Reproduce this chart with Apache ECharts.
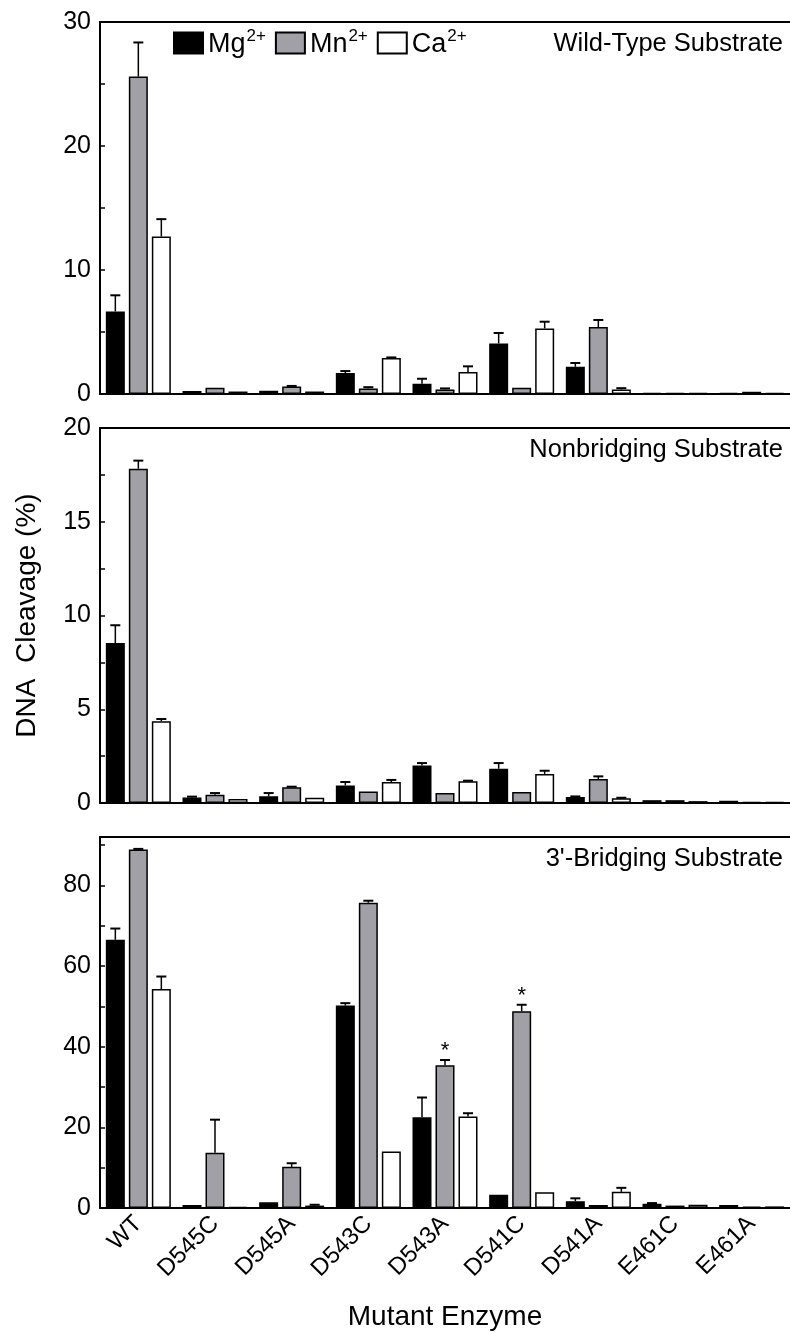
<!DOCTYPE html>
<html>
<head>
<meta charset="utf-8">
<script src="https://cdn.jsdelivr.net/npm/echarts@6/dist/echarts.min.js"></script>
<style>
  html, body { margin: 0; padding: 0; background: #fff; }
  #chart { width: 790px; height: 1332px; }
</style>
</head>
<body>
<div id="chart"></div>
<script>
var categories = ['WT', 'D545C', 'D545A', 'D543C', 'D543A', 'D541C', 'D541A', 'E461C', 'E461A'];
var ions = ['Mg', 'Mn', 'Ca'];
var panelTitles = ['Wild-Type Substrate', 'Nonbridging Substrate', "3'-Bridging Substrate"];

// wild-type substrate
var wtMg    = [6.66, 0.25, 0.27, 1.69, 0.83, 4.08, 2.2, 0.1, 0.1];
var wtMgErr = [1.3, 0, 0, 0.16, 0.4, 0.84, 0.3, 0, 0];
var wtMn    = [25.6, 0.5, 0.6, 0.45, 0.37, 0.5, 5.4, 0.1, 0.18];
var wtMnErr = [2.75, 0, 0.05, 0.1, 0.08, 0.03, 0.57, 0, 0.03];
var wtCa    = [12.7, 0.2, 0.2, 2.9, 1.77, 5.29, 0.37, 0.08, 0.08];
var wtCaErr = [1.4, 0.03, 0, 0.05, 0.46, 0.54, 0.1, 0, 0];

// nonbridging substrate
var nbMg    = [8.53, 0.3, 0.36, 0.94, 2.0, 1.83, 0.32, 0.15, 0.12];
var nbMgErr = [0.95, 0.04, 0.17, 0.18, 0.13, 0.3, 0.03, 0.02, 0.02];
var nbMn    = [17.83, 0.44, 0.84, 0.62, 0.53, 0.59, 1.28, 0.15, 0.05];
var nbMnErr = [0.43, 0.09, 0.03, 0.02, 0.02, 0.02, 0.14, 0.02, 0];
var nbCa    = [4.36, 0.21, 0.28, 1.12, 1.16, 1.55, 0.25, 0.1, 0.05];
var nbCaErr = [0.12, 0.02, 0.02, 0.11, 0.03, 0.17, 0.03, 0.01, 0];

// 3'-bridging substrate
var brMg    = [66.5, 0.75, 1.4, 50.2, 22.5, 3.3, 1.7, 1.07, 0.75];
var brMgErr = [2.8, 0.1, 0.1, 0.6, 4.9, 0.1, 0.7, 0.15, 0.1];
var brMn    = [88.9, 13.7, 10.2, 75.7, 35.4, 48.8, 0.75, 0.6, 0.35];
var brMnErr = [0.15, 8.2, 0.9, 0.5, 1.3, 1.6, 0.05, 0.05, 0.05];
var brCa    = [54.3, 0.25, 0.6, 14.0, 22.7, 3.9, 4.0, 0.8, 0.4];
var brCaErr = [3.1, 0.05, 0.2, 0.1, 0.8, 0.1, 1.0, 0.05, 0.05];

// [category index, ion index] marked with an asterisk (3'-bridging only)
var brStars = [[4, 1], [5, 1]];

var yMax = [30, 20, 92];
var yStep = [5, 2.5, 10];
var yLabelStep = [10, 5, 20];

var FONT = '"Liberation Sans", Arial, sans-serif';
var fills = ['#000000', '#a1a0a6', '#ffffff'];
var barW = 19, barGapPx = 4;

var panels = [
    { vals: [wtMg, wtMn, wtCa], errs: [wtMgErr, wtMnErr, wtCaErr], stars: [] },
    { vals: [nbMg, nbMn, nbCa], errs: [nbMgErr, nbMnErr, nbCaErr], stars: [] },
    { vals: [brMg, brMn, brCa], errs: [brMgErr, brMnErr, brCaErr], stars: brStars }
];
var gridTops = [22, 428, 837];
var gridHeights = [372, 375, 372];

var grids = [], xAxes = [], yAxes = [], series = [], titles = [];

panels.forEach(function (p, k) {
    var last = k === panels.length - 1;
    grids.push({ left: 100, width: 693, top: gridTops[k], height: gridHeights[k] });
    xAxes.push({
        type: 'category', gridIndex: k, data: categories,
        axisLine: { lineStyle: { color: '#000', width: 2 } },
        axisTick: { show: false },
        axisLabel: {
            show: last, rotate: 45, margin: 12, color: '#000',
            fontSize: 24, fontFamily: FONT
        },
        name: last ? 'Mutant Enzyme' : '',
        nameLocation: 'middle', nameGap: 95,
        nameTextStyle: { fontSize: 28, color: '#000', fontFamily: FONT }
    });
    // top frame line
    xAxes.push({
        type: 'category', gridIndex: k, data: categories, position: 'top',
        axisLine: { lineStyle: { color: '#000', width: 2 } },
        axisTick: { show: false }, axisLabel: { show: false }
    });
    var step = yLabelStep[k];
    yAxes.push({
        type: 'value', gridIndex: k, min: 0, max: yMax[k], interval: yStep[k],
        splitLine: { show: false },
        axisLine: { show: true, lineStyle: { color: '#000', width: 2 } },
        axisTick: { show: true, inside: true, length: 5, lineStyle: { color: '#000', width: 1.5 } },
        axisLabel: {
            color: '#000', fontSize: 25, fontFamily: FONT, margin: 9,
            showMaxLabel: yMax[k] % step === 0,
            formatter: function (v) { return Math.abs(v / step - Math.round(v / step)) < 1e-6 ? String(v) : ''; }
        },
        name: k === 1 ? 'DNA  Cleavage (%)' : '',
        nameLocation: 'middle', nameGap: 59,
        nameTextStyle: { fontSize: 28, color: '#000', fontFamily: FONT }
    });
    titles.push({
        text: panelTitles[k], right: 2, top: gridTops[k] + 4,
        textStyle: { fontSize: 25.5, fontWeight: 'normal', color: '#000', fontFamily: FONT }
    });

    ions.forEach(function (ion, i) {
        series.push({
            type: 'bar', name: ion, xAxisIndex: 2 * k, yAxisIndex: k,
            data: p.vals[i], barWidth: barW, barGap: (barGapPx / barW * 100) + '%',
            itemStyle: { color: fills[i], borderColor: '#000', borderWidth: 1.5 },
            z: 2
        });
    });

    // error bars and asterisks
    var errData = [];
    ions.forEach(function (ion, i) {
        categories.forEach(function (c, j) {
            var star = p.stars.some(function (s) { return s[0] === j && s[1] === i; }) ? 1 : 0;
            errData.push([j, i, p.vals[i][j], p.vals[i][j] + p.errs[i][j], star]);
        });
    });
    series.push({
        type: 'custom', xAxisIndex: 2 * k, yAxisIndex: k, data: errData, z: 3,
        silent: true,
        encode: { x: 0, y: 3 },
        renderItem: function (params, api) {
            var idx = api.value(0);
            var base = api.coord([idx, api.value(2)]);
            var top = api.coord([idx, api.value(3)]);
            var x = base[0] + (api.value(1) - 1) * (barW + barGapPx);
            var children = [];
            if (base[1] - top[1] > 0.5) {
                children.push({
                    type: 'line', shape: { x1: x, y1: base[1], x2: x, y2: top[1] },
                    style: { stroke: '#000', lineWidth: 1.5 }
                });
                children.push({
                    type: 'line', shape: { x1: x - 5, y1: top[1], x2: x + 5, y2: top[1] },
                    style: { stroke: '#000', lineWidth: 2 }
                });
            }
            if (api.value(4)) {
                children.push({
                    type: 'text',
                    style: {
                        text: '*', x: x, y: top[1] + 2, align: 'center', verticalAlign: 'bottom',
                        fontSize: 22, fontFamily: FONT, fill: '#000'
                    }
                });
            }
            return { type: 'group', children: children };
        }
    });
});

var chart = echarts.init(document.getElementById('chart'));
chart.setOption({
    animation: false,
    backgroundColor: '#fff',
    textStyle: { fontFamily: FONT },
    title: titles,
    legend: {
        data: ions, left: 168, top: 23, icon: 'rect',
        itemWidth: 29, itemHeight: 21, itemGap: 9,
        selectedMode: false,
        formatter: function (name) { return '{b|' + name + '}{s|2+}'; },
        textStyle: {
            color: '#000', fontFamily: FONT, fontSize: 27,
            rich: {
                b: { fontSize: 27, color: '#000', fontFamily: FONT, verticalAlign: 'bottom', lineHeight: 30 },
                s: { fontSize: 17, color: '#000', fontFamily: FONT, verticalAlign: 'top', lineHeight: 30, padding: [0, 0, 0, 1] }
            }
        }
    },
    grid: grids,
    xAxis: xAxes,
    yAxis: yAxes,
    series: series
});
</script>
</body>
</html>
